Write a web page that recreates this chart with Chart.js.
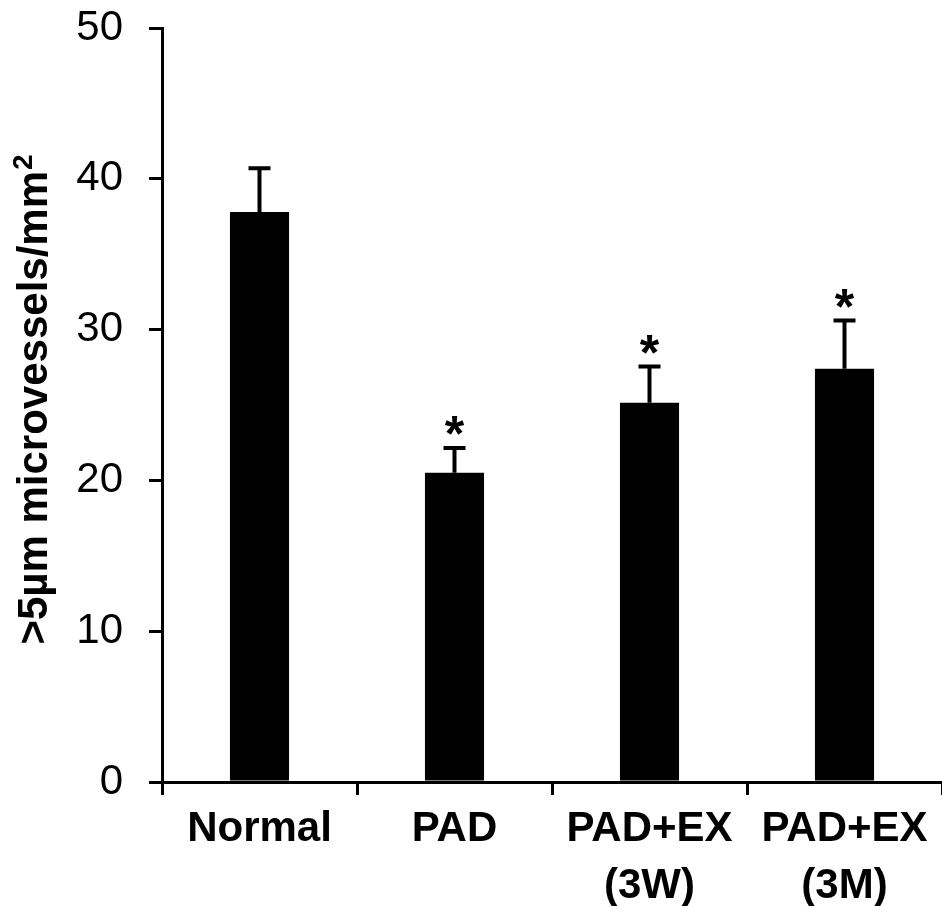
<!DOCTYPE html>
<html>
<head>
<meta charset="utf-8">
<script src="https://cdn.jsdelivr.net/npm/chart.js@4/dist/chart.umd.min.js"></script>
<style>
  html, body { margin: 0; padding: 0; background: #fff; }
  #wrap { width: 942px; height: 906px; }
</style>
</head>
<body>
<div id="wrap"><canvas id="chart" width="942" height="906"></canvas></div>
<script>
// Data
const categories = ["Normal", "PAD", ["PAD+EX", "(3W)"], ["PAD+EX", "(3M)"]];
const meanValues = [37.8, 20.5, 25.15, 27.4];
const errorValues = [2.9, 1.65, 2.4, 3.2];
const significant = [false, true, true, true];
const yTicks = [0, 10, 20, 30, 40, 50];
const yTitle = ">5\u00B5m microvessels/mm";
const yTitleSup = "2";

const FONT = "'Liberation Sans', Arial, sans-serif";

// Error bars (upper only) and significance asterisks
const errorBarPlugin = {
  id: "errorBars",
  afterDatasetsDraw(chart) {
    const ctx = chart.ctx;
    const meta = chart.getDatasetMeta(0);
    const yScale = chart.scales.y;
    ctx.save();
    ctx.strokeStyle = "#000";
    ctx.fillStyle = "#000";
    ctx.lineWidth = 4;
    meta.data.forEach((bar, i) => {
      const x = bar.x;
      const yTop = yScale.getPixelForValue(meanValues[i]);
      const yCap = yScale.getPixelForValue(meanValues[i] + errorValues[i]);
      ctx.beginPath();
      ctx.moveTo(x, yTop);
      ctx.lineTo(x, yCap);
      ctx.moveTo(x - 11, yCap);
      ctx.lineTo(x + 11, yCap);
      ctx.stroke();
      if (significant[i]) {
        ctx.font = "bold 50px " + FONT;
        ctx.textAlign = "center";
        ctx.textBaseline = "alphabetic";
        ctx.fillText("*", x, yCap + 3);
      }
    });
    ctx.restore();
  },
};

// Rotated y title with a real superscript
const yTitlePlugin = {
  id: "yTitle",
  afterDraw(chart) {
    const ctx = chart.ctx;
    const area = chart.chartArea;
    ctx.save();
    ctx.fillStyle = "#000";
    ctx.textBaseline = "alphabetic";
    ctx.textAlign = "left";
    ctx.font = "bold 42px " + FONT;
    const w1 = ctx.measureText(yTitle).width;
    ctx.font = "bold 28px " + FONT;
    const w2 = ctx.measureText(yTitleSup).width;
    const yc = (area.top + area.bottom) / 2 - 5;
    ctx.translate(47, yc);
    ctx.rotate(-Math.PI / 2);
    const start = -(w1 + w2) / 2;
    ctx.font = "bold 42px " + FONT;
    ctx.fillText(yTitle, start, 0);
    ctx.font = "bold 28px " + FONT;
    ctx.fillText(yTitleSup, start + w1 + 1, -15);
    ctx.restore();
  },
};

new Chart(document.getElementById("chart"), {
  type: "bar",
  data: {
    labels: categories,
    datasets: [
      {
        data: meanValues,
        backgroundColor: "#000",
        borderWidth: 0,
        barPercentage: 0.303,
        categoryPercentage: 1.0,
      },
    ],
  },
  options: {
    responsive: false,
    animation: false,
    layout: { padding: { top: 28, right: 0, bottom: 0, left: 0 } },
    plugins: {
      legend: { display: false },
      tooltip: { enabled: false },
    },
    scales: {
      x: {
        border: { display: true, color: "#000", width: 3 },
        grid: {
          drawOnChartArea: false,
          drawTicks: true,
          tickLength: 13,
          color: "#000",
          lineWidth: 3,
        },
        ticks: {
          color: "#000",
          font: { family: FONT, size: 42, weight: "bold", lineHeight: 1.35 },
          padding: 6,
          maxRotation: 0,
          autoSkip: false,
        },
        afterFit(scale) {
          scale.height = 124;
          scale.paddingLeft = 0;
          scale.paddingRight = 0;
        },
      },
      y: {
        min: 0,
        max: 50,
        afterBuildTicks(scale) {
          scale.ticks = yTicks.map((v) => ({ value: v }));
        },
        border: { display: true, color: "#000", width: 3 },
        grid: {
          drawOnChartArea: false,
          drawTicks: true,
          tickLength: 13,
          color: "#000",
          lineWidth: 3,
        },
        ticks: {
          color: "#000",
          font: { family: FONT, size: 42 },
          padding: 26,
        },
        title: { display: false },
        afterFit(scale) {
          scale.width = 162;
          scale.paddingTop = 0;
          scale.paddingBottom = 0;
        },
      },
    },
  },
  plugins: [errorBarPlugin, yTitlePlugin],
});
</script>
</body>
</html>
